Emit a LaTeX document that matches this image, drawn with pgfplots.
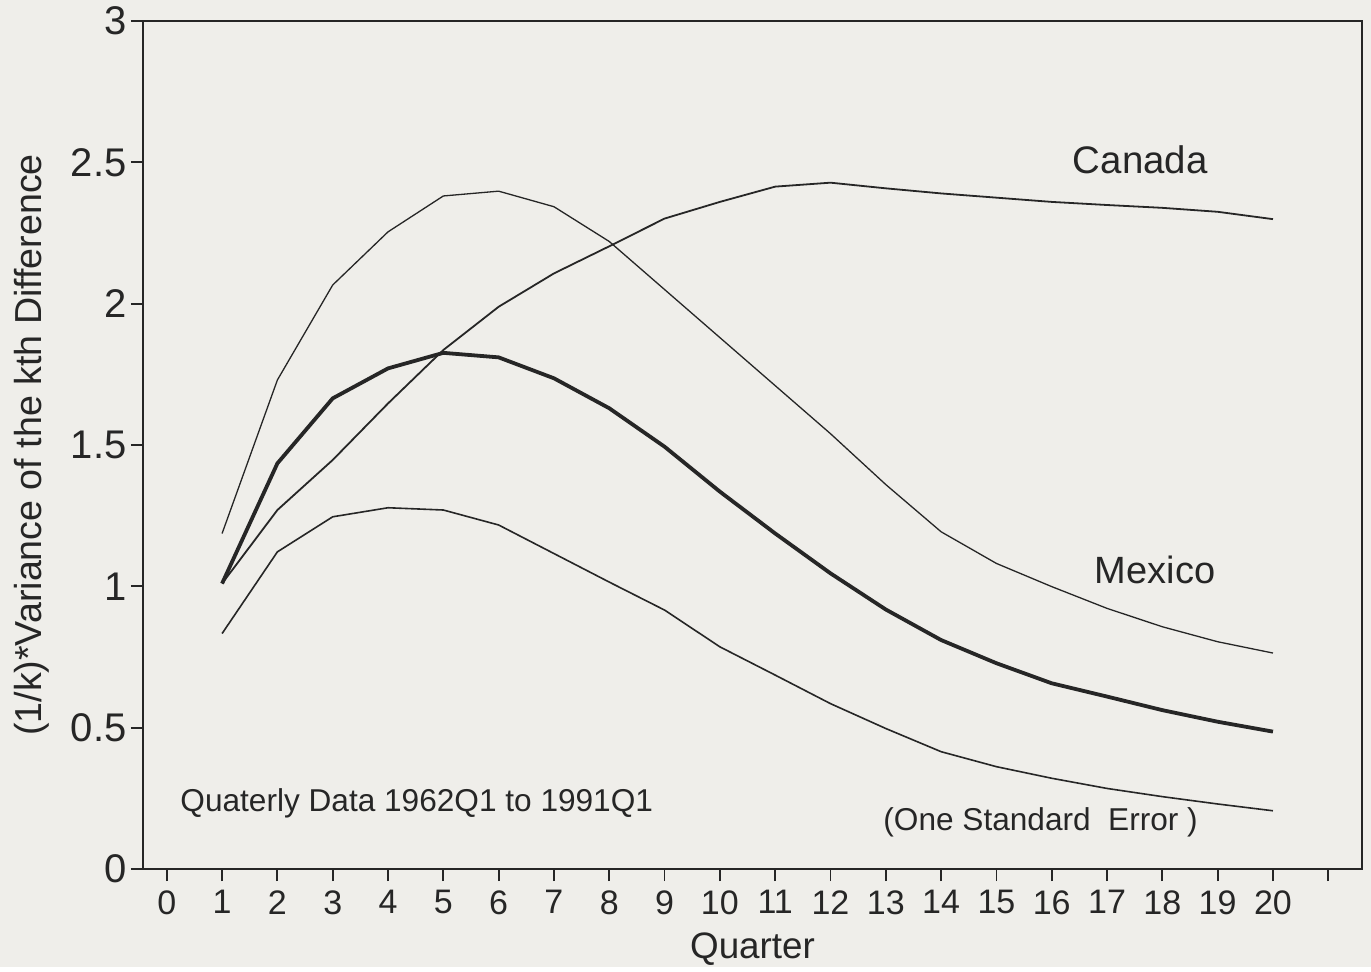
\documentclass[border=0pt]{standalone}
\usepackage{pgfplots}
\pgfplotsset{compat=1.18}
\usepackage{fontspec}
\setmainfont{Liberation Sans}
\definecolor{paper}{RGB}{239,238,234}
\definecolor{ink}{RGB}{38,38,38}
\begin{document}
\begin{tikzpicture}
\fill[paper] (-71.5pt,-49pt) rectangle (614pt,434.5pt);
\begin{axis}[
  at={(0,0)}, anchor=south west,
  scale only axis, width=609.5pt, height=424pt,
  xmin=-0.43, xmax=21.61, ymin=0, ymax=3,
  axis line style={ink, line width=1pt},
  tick style={ink, line width=0.9pt},
  tick align=outside, major tick length=6pt,
  xtick pos=bottom, ytick pos=left,
  xtick={0,1,2,3,4,5,6,7,8,9,10,11,12,13,14,15,16,17,18,19,20,21},
  xticklabels={0,1,2,3,4,5,6,7,8,9,10,11,12,13,14,15,16,17,18,19,20,{}},
  ytick={0,0.5,1,1.5,2,2.5,3},
  yticklabels={0,0.5,1,1.5,2,2.5,3},
  xticklabel style={font=\fontsize{17}{19}\selectfont, text=ink, inner sep=2pt, yshift=-2.5pt},
  yticklabel style={font=\fontsize{20}{22}\selectfont, text=ink, inner sep=2pt},
  /pgf/number format/assume math mode=true,
  xlabel={Quarter}, ylabel={(1/k)*Variance of the kth Difference},
  label style={text=ink},
  xlabel style={font=\fontsize{18.4}{21}\selectfont, at={(axis description cs:0.5,0)}, anchor=center, yshift=-40pt},
  ylabel style={font=\fontsize{18.8}{21}\selectfont, at={(axis description cs:0,0.5)}, anchor=center, yshift=55.5pt},
  clip=false,
]
\addplot[ink, line width=0.9pt] coordinates {
(1,1.01) (2,1.27) (3,1.447) (4,1.647) (5,1.836) (6,1.989) (7,2.107) (8,2.203) (9,2.301) (10,2.36)
(11,2.414) (12,2.428) (13,2.408) (14,2.39) (15,2.375) (16,2.36) (17,2.349) (18,2.339) (19,2.325) (20,2.299)};
\addplot[ink, line width=1.9pt] coordinates {
(1,1.01) (2,1.435) (3,1.665) (4,1.771) (5,1.826) (6,1.81) (7,1.736) (8,1.63) (9,1.494) (10,1.335)
(11,1.187) (12,1.046) (13,0.918) (14,0.81) (15,0.728) (16,0.657) (17,0.61) (18,0.562) (19,0.521) (20,0.486)};
\addplot[ink, line width=0.65pt] coordinates {
(1,1.187) (2,1.73) (3,2.066) (4,2.254) (5,2.381) (6,2.398) (7,2.343) (8,2.22) (9,2.05) (10,1.88)
(11,1.71) (12,1.54) (13,1.36) (14,1.193) (15,1.081) (16,0.999) (17,0.922) (18,0.857) (19,0.804) (20,0.764)};
\addplot[ink, line width=0.8pt] coordinates {
(1,0.833) (2,1.122) (3,1.246) (4,1.278) (5,1.27) (6,1.217) (7,1.116) (8,1.015) (9,0.916) (10,0.786)
(11,0.686) (12,0.585) (13,0.497) (14,0.415) (15,0.362) (16,0.321) (17,0.285) (18,0.256) (19,0.23) (20,0.206)};
\node[font=\fontsize{19.2}{22}\selectfont, text=ink] at (axis cs:17.6,2.508) {Canada};
\node[font=\fontsize{19}{22}\selectfont, text=ink] at (axis cs:17.87,1.058) {Mexico};
\node[font=\fontsize{15.8}{18}\selectfont, text=ink, anchor=west, inner sep=0pt] at (axis cs:0.24,0.233) {Quaterly Data 1962Q1 to 1991Q1};
\node[font=\fontsize{15.8}{18}\selectfont, text=ink, anchor=west, inner sep=0pt] at (axis cs:12.95,0.166) {(One Standard\ \ Error )};
\end{axis}
\end{tikzpicture}
\end{document}
